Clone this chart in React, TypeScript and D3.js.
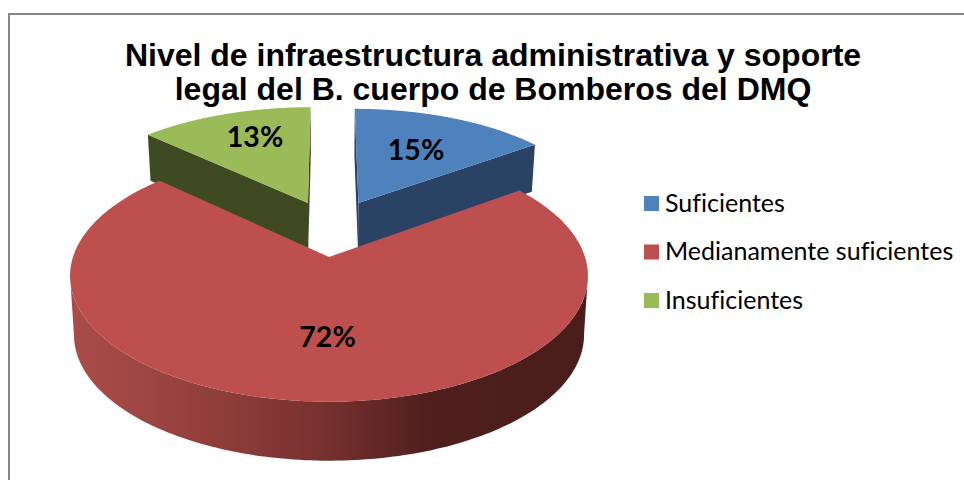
import React from "react";
import * as d3 from "d3";

const categories = ["Suficientes", "Medianamente suficientes", "Insuficientes"];
const values = [15, 72, 13];
const titleLines = [
  "Nivel de infraestructura administrativa y soporte",
  "legal del B. cuerpo de Bomberos del DMQ",
];
const topColors = ["#4F81BD", "#BD504E", "#9BBB59"];
const wallColors = ["#2A4365", "#7A2F2D", "#3F4A22"];

const W = 964;
const H = 480;

// perspective model of the pie plane
const VX = 329;
const VY = 257;
const RX = 256;
const RY = 123;
const P = 0.15;
const explodeX = [0.123, 0, -0.088];
const explodeZ = [0.47, 0, 0.47];
const radius = [1.0, 1, 1.02];
const depth = [47, 59, 46];
const bottomScale = 0.985;
const labelFrac = [0.59, 0.593, 0.72];
const labelDx = [0, 9, 9];

const project = (X: number, Z: number) => {
  const w = 1 / (1 + P * Z);
  return [VX + RX * X * w, VY - RY * Z * w] as [number, number];
};

const pie = d3.pie<number>().sort(null).startAngle(0).endAngle(2 * Math.PI);
const arcs = pie(values);
const line = d3.line();

function pt(i: number, a: number, f = 1): [number, number] {
  return project(
    explodeX[i] + radius[i] * f * Math.sin(a),
    explodeZ[i] + radius[i] * f * Math.cos(a)
  );
}
const lower = (i: number, p: [number, number]): [number, number] => [
  VX + (p[0] - VX) * bottomScale,
  p[1] + depth[i],
];
const arcPts = (i: number, a0: number, a1: number) =>
  d3.range(0, 241).map((k) => pt(i, a0 + ((a1 - a0) * k) / 240));

function Slice({ i }: { i: number }) {
  const { startAngle: s, endAngle: e } = arcs[i];
  const apex = pt(i, 0, 0);
  const rim = arcPts(i, s, e);
  const top = line([apex, ...rim])! + "Z";
  const wallPath = (pts: [number, number][]) =>
    line([...pts, ...pts.map((p) => lower(i, p)).reverse()])! + "Z";
  const radialA = wallPath([apex, rim[0]]);
  const radialB = wallPath([apex, rim[rim.length - 1]]);
  const rightIdx = d3.greatestIndex(rim, (p) => p[0]);
  const leftIdx = d3.leastIndex(rim, (p) => p[0]);
  const outer = wallPath(rim.slice(rightIdx, leftIdx + 1));
  const isRed = i === 1;
  return (
    <g>
      {!isRed && <path d={radialA} fill={wallColors[i]} />}
      {!isRed && <path d={radialB} fill={wallColors[i]} />}
      {isRed && <path d={outer} fill="url(#redWall)" />}
      <path d={top} fill={topColors[i]} />
    </g>
  );
}

const xGrad = d3
  .scaleLinear<string>()
  .domain([70, 200, 330, 430, 588])
  .range(["#AA4D4A", "#93403D", "#75302E", "#4E1F1D", "#4A1D1B"]);

export default function App() {
  const stops = xGrad.domain();
  return (
    <svg
      width={W}
      height={H}
      viewBox={`0 0 ${W} ${H}`}
      style={{ position: "absolute", left: 0, top: 0, display: "block", background: "#fff" }}
    >
      <defs>
        <linearGradient id="redWall" gradientUnits="userSpaceOnUse" x1={70} x2={588} y1={0} y2={0}>
          {stops.map((d) => (
            <stop key={d} offset={(d - 70) / (588 - 70)} stopColor={xGrad(d)} />
          ))}
        </linearGradient>
      </defs>
      <rect x={9} y={14} width={W + 10} height={H + 10} fill="#fff" stroke="#868686" strokeWidth={2} />
      <g fontFamily="'Liberation Sans', Arial, sans-serif" fontWeight="bold" fontSize={32} textAnchor="middle" fill="#000">
        {titleLines.map((t, i) => (
          <text key={t} x={493} y={66 + i * 34}>{t}</text>
        ))}
      </g>
      <Slice i={0} />
      <Slice i={2} />
      <Slice i={1} />
      <g fontFamily="Lato, sans-serif" fontWeight="bold" fontSize={28.5} textAnchor="middle" fill="#000">
        {arcs.map((a, i) => {
          const mid = (a.startAngle + a.endAngle) / 2;
          const [x, y] = pt(i, mid, labelFrac[i]);
          return (
            <text key={i} x={x + labelDx[i]} y={y + 10}>
              {values[i]}%
            </text>
          );
        })}
      </g>
      <g fontFamily="Lato, sans-serif" fontSize={25} fill="#000" style={{ fontVariantLigatures: "none" }}>
        {categories.map((c, i) => {
          const y = 203.5 + i * 48.5;
          return (
            <g key={c}>
              <rect x={644} y={y - 7.5} width={15} height={15} fill={topColors[i]} />
              <text x={665} y={y + 8}>{c}</text>
            </g>
          );
        })}
      </g>
    </svg>
  );
}
